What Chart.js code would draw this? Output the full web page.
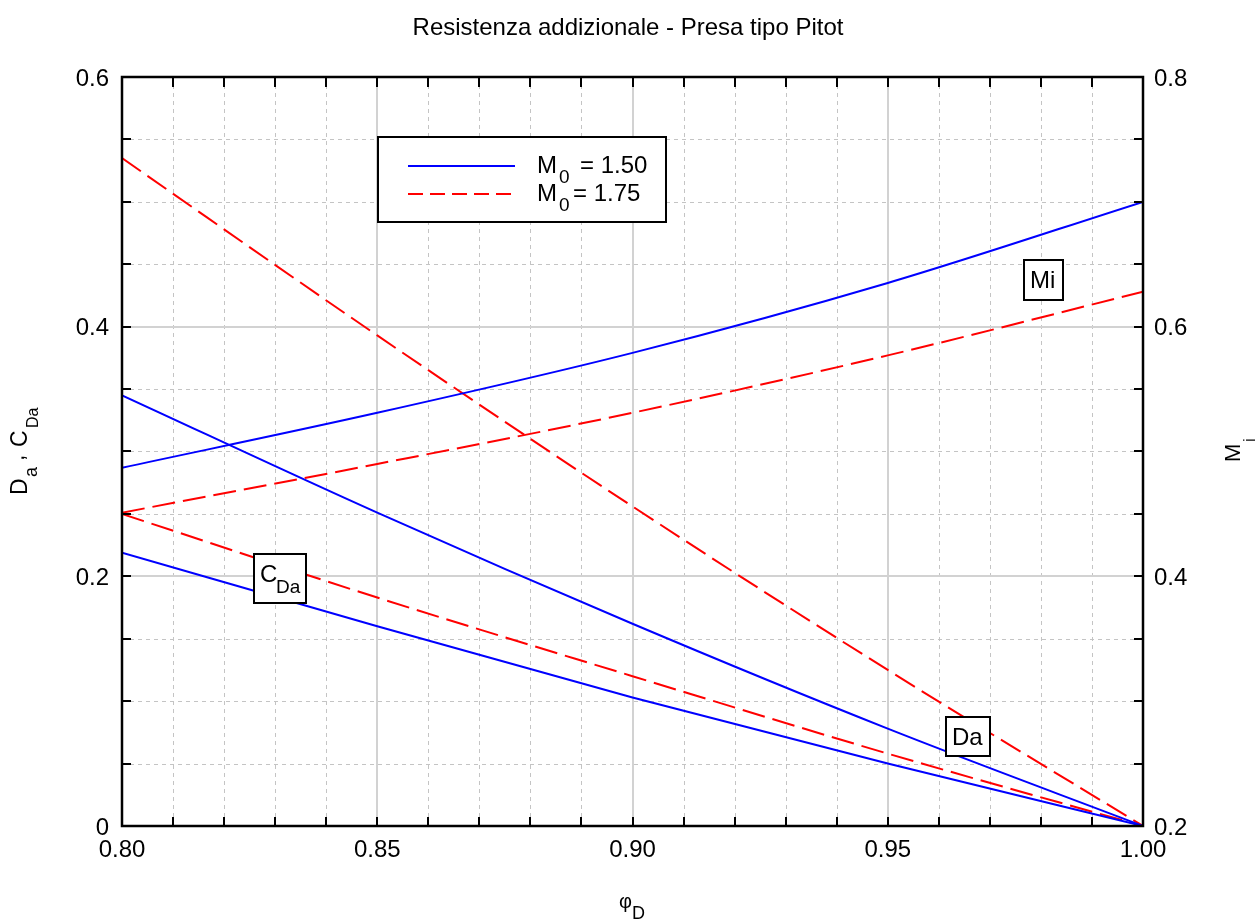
<!DOCTYPE html>
<html>
<head>
<meta charset="utf-8">
<script src="https://cdn.jsdelivr.net/npm/chart.js@4.4.1/dist/chart.umd.min.js"></script>
<style>
  html, body { margin: 0; padding: 0; background: #fff; }
  #wrap { width: 1256px; height: 920px; }
</style>
</head>
<body>
<div id="wrap"><canvas id="chart" width="1256" height="920"></canvas></div>
<script>
// phi_D on the x axis
const phi = [0.80, 0.85, 0.90, 0.95, 1.00];

// Mi (right axis)
const miM150 = [0.487, 0.531, 0.579, 0.635, 0.700];
const miM175 = [0.451, 0.490, 0.531, 0.577, 0.628];

// Da and C_Da (left axis)
const daM150 = [0.345, 0.251, 0.162, 0.078, 0];
const daM175 = [0.535, 0.393, 0.256, 0.125, 0];
const cdaM150 = [0.219, 0.160, 0.103, 0.050, 0];
const cdaM175 = [0.250, 0.183, 0.120, 0.058, 0];

const xTickLabels = ['0.80', '0.85', '0.90', '0.95', '1.00'];
const yTickLabels = ['0', '0.2', '0.4', '0.6'];
const y2TickLabels = ['0.2', '0.4', '0.6', '0.8'];

const FONT = '"Liberation Sans", Arial, sans-serif';
const BLUE = '#0000ff';
const RED = '#ff0000';

const pts = (vals) => vals.map((v, i) => ({ x: phi[i], y: v }));

const line = (data, color, axis, dashed) => ({
    data: pts(data),
    yAxisID: axis,
    borderColor: color,
    borderWidth: 2,
    borderDash: dashed ? [23, 8] : [],
    pointRadius: 0,
    fill: false,
    cubicInterpolationMode: 'monotone'
});

// pieces of text placed at given offsets: [text, size, x, dy]
function drawParts(ctx, parts, x, y) {
    for (const [txt, size, dx, dy] of parts) {
        ctx.font = size + 'px ' + FONT;
        ctx.fillText(txt, x + dx, y + (dy || 0));
    }
}

function labelBox(ctx, x0, y0, x1, y1) {
    ctx.fillStyle = '#fff';
    ctx.fillRect(x0, y0, x1 - x0, y1 - y0);
    ctx.strokeStyle = '#000';
    ctx.lineWidth = 2;
    ctx.setLineDash([]);
    ctx.strokeRect(x0, y0, x1 - x0, y1 - y0);
    ctx.fillStyle = '#000';
}

const frame = {
    id: 'frame',
    beforeDatasetsDraw(chart) {
        const { ctx, chartArea: a, scales: { x, y } } = chart;
        const seg = (x0, y0, x1, y1) => {
            ctx.beginPath(); ctx.moveTo(x0, y0); ctx.lineTo(x1, y1); ctx.stroke();
        };
        ctx.save();
        // minor grid, dashed
        ctx.lineWidth = 1;
        ctx.strokeStyle = '#c4c4c4';
        ctx.setLineDash([4, 4]);
        for (let i = 1; i < 20; i++) {
            if (i % 5 === 0) continue;
            const px = Math.round(x.getPixelForValue(0.8 + i * 0.01)) + 0.5;
            seg(px, a.top, px, a.bottom);
        }
        for (let j = 1; j < 12; j++) {
            if (j % 4 === 0) continue;
            const py = Math.round(y.getPixelForValue(j * 0.05)) + 0.5;
            seg(a.left, py, a.right, py);
        }
        // major grid, solid
        ctx.setLineDash([]);
        ctx.strokeStyle = '#d2d2d2';
        ctx.lineWidth = 2;
        for (let i = 1; i < 4; i++) {
            const px = Math.round(x.getPixelForValue(0.8 + i * 0.05));
            seg(px, a.top, px, a.bottom);
        }
        for (let j = 1; j < 3; j++) {
            const py = Math.round(y.getPixelForValue(j * 0.2));
            seg(a.left, py, a.right, py);
        }
        ctx.restore();
    },
    afterDatasetsDraw(chart) {
        const { ctx, chartArea: a, scales: { x, y } } = chart;
        const seg = (x0, y0, x1, y1) => {
            ctx.beginPath(); ctx.moveTo(x0, y0); ctx.lineTo(x1, y1); ctx.stroke();
        };
        ctx.save();
        ctx.strokeStyle = '#000';
        ctx.lineWidth = 2;
        ctx.setLineDash([]);
        // inward ticks on all four sides
        for (let i = 1; i < 20; i++) {
            const px = Math.round(x.getPixelForValue(0.8 + i * 0.01));
            seg(px, a.bottom, px, a.bottom - 9);
            seg(px, a.top, px, a.top + 10);
        }
        for (let j = 1; j < 12; j++) {
            const py = Math.round(y.getPixelForValue(j * 0.05));
            seg(a.left, py, a.left + 9, py);
            seg(a.right, py, a.right - 9, py);
        }
        ctx.lineWidth = 2.5;
        ctx.strokeRect(a.left, a.top, a.right - a.left, a.bottom - a.top);

        ctx.textBaseline = 'alphabetic';
        ctx.textAlign = 'left';

        // curve labels
        labelBox(ctx, 254, 554, 306, 603);
        drawParts(ctx, [['C', 24, 0, 0], ['Da', 19, 16, 11]], 260, 582);
        labelBox(ctx, 946, 717, 990, 756);
        drawParts(ctx, [['Da', 24, 0, 0]], 952, 745);
        labelBox(ctx, 1024, 260, 1063, 300);
        drawParts(ctx, [['Mi', 24, 0, 0]], 1030, 288);

        // legend
        labelBox(ctx, 378, 137, 666, 222);
        ctx.lineWidth = 2;
        ctx.strokeStyle = BLUE;
        seg(408, 166, 515, 166);
        ctx.strokeStyle = RED;
        ctx.setLineDash([15, 7]);
        seg(408, 194, 515, 194);
        ctx.setLineDash([]);
        ctx.fillStyle = '#000';
        drawParts(ctx, [['M', 24, 0, 0], ['0', 19, 22, 10], ['= 1.50', 24, 43, 0]], 537, 173);
        drawParts(ctx, [['M', 24, 0, 0], ['0', 19, 22, 10], ['= 1.75', 24, 36, 0]], 537, 201);

        // axis titles
        drawParts(ctx, [['\u03c6', 20, 0, 0], ['D', 18, 13, 11]], 619, 908);

        ctx.save();
        ctx.translate(27, 496);
        ctx.rotate(-Math.PI / 2);
        drawParts(ctx, [['D', 23, 1, 0], ['a', 18, 19, 10], [',', 23, 35, -3], ['C', 23, 49, 0], ['Da', 16, 68, 11]], 0, 0);
        ctx.restore();

        ctx.save();
        ctx.translate(1240, 462);
        ctx.rotate(-Math.PI / 2);
        drawParts(ctx, [['M', 22, 0, 0], ['i', 17, 20, 15]], 0, 0);
        ctx.restore();

        ctx.restore();
    }
};

const tickFont = { family: FONT, size: 24 };

new Chart(document.getElementById('chart'), {
    type: 'line',
    data: {
        datasets: [
            line(miM150, BLUE, 'y2', false),
            line(miM175, RED, 'y2', true),
            line(daM150, BLUE, 'y', false),
            line(daM175, RED, 'y', true),
            line(cdaM150, BLUE, 'y', false),
            line(cdaM175, RED, 'y', true)
        ]
    },
    options: {
        responsive: false,
        animation: false,
        devicePixelRatio: 1,
        layout: { padding: 0 },
        plugins: {
            legend: { display: false },
            tooltip: { enabled: false },
            title: {
                display: true,
                text: 'Resistenza addizionale - Presa tipo Pitot',
                color: '#000',
                font: { family: FONT, size: 24, weight: 'normal' },
                padding: { top: 14, bottom: 34.2 }
            }
        },
        scales: {
            x: {
                type: 'linear',
                min: 0.8,
                max: 1.0,
                grid: { display: false, drawTicks: false },
                border: { display: false },
                ticks: {
                    stepSize: 0.05,
                    color: '#000',
                    font: tickFont,
                    padding: 10,
                    maxRotation: 0,
                    callback: (v, i) => xTickLabels[i]
                },
                afterFit: (s) => { s.height = 94; }
            },
            y: {
                position: 'left',
                min: 0,
                max: 0.6,
                grid: { display: false, drawTicks: false },
                border: { display: false },
                ticks: {
                    stepSize: 0.2,
                    color: '#000',
                    font: tickFont,
                    padding: 13,
                    labelOffset: 2,
                    callback: (v, i) => yTickLabels[i]
                },
                afterFit: (s) => { s.width = 122; }
            },
            y2: {
                position: 'right',
                min: 0.2,
                max: 0.8,
                grid: { display: false, drawTicks: false },
                border: { display: false },
                ticks: {
                    stepSize: 0.2,
                    color: '#000',
                    font: tickFont,
                    padding: 11,
                    labelOffset: 2,
                    callback: (v, i) => y2TickLabels[i]
                },
                afterFit: (s) => { s.width = 113; }
            }
        }
    },
    plugins: [frame]
});
</script>
</body>
</html>
